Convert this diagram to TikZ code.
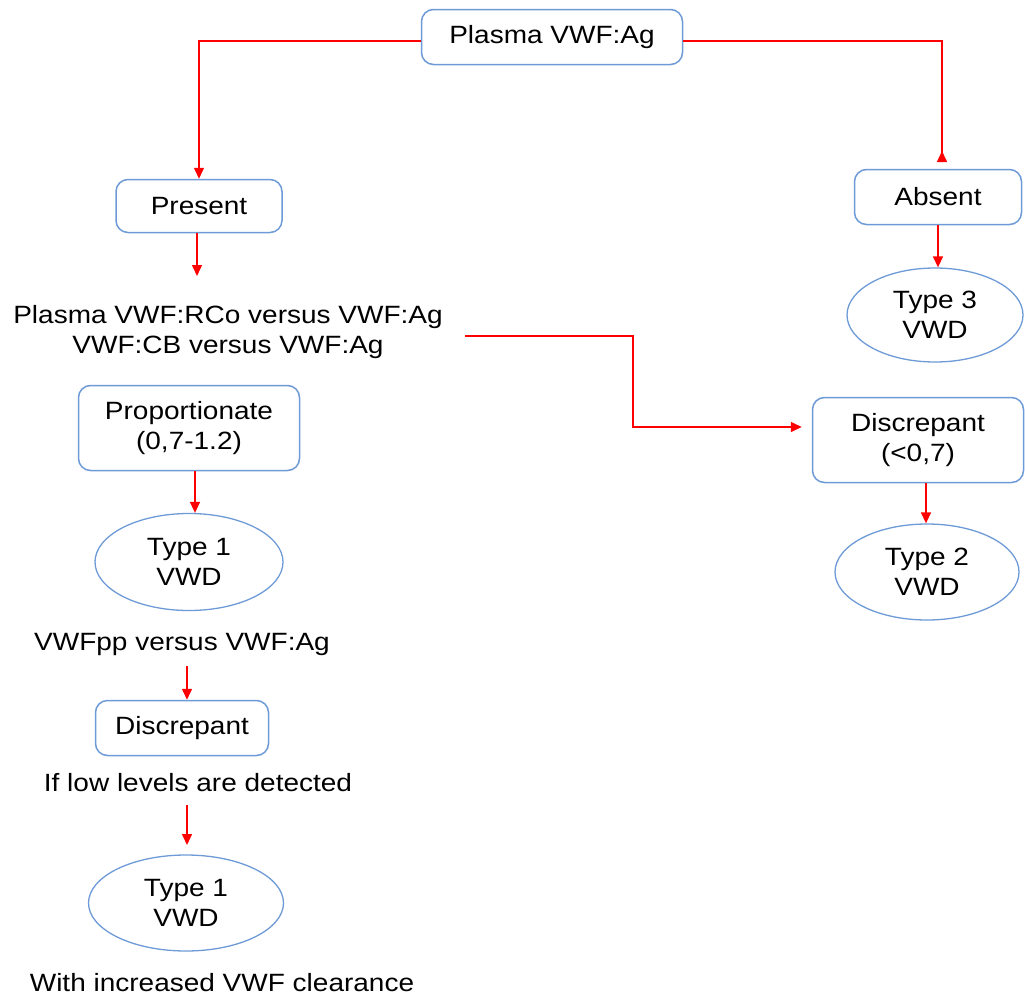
\documentclass[tikz,border=0pt]{standalone}
\usepackage{fontspec}
\setmainfont[FakeStretch=1.12]{Liberation Sans}
\usetikzlibrary{arrows.meta,shapes.geometric}
\definecolor{edgeblue}{RGB}{110,155,215}
\definecolor{flowred}{RGB}{255,0,0}
\newcommand{\flowfont}{\fontsize{25}{30}\selectfont}
\tikzset{
  box/.style={draw=edgeblue, line width=1.5pt, rounded corners=12pt, fill=white,
              align=center, inner sep=0pt, font=\flowfont},
  oval/.style={ellipse, draw=edgeblue, line width=1.3pt, fill=white,
               align=center, inner sep=0pt, font=\flowfont},
  note/.style={align=center, inner sep=0pt, font=\flowfont},
  link/.style={draw=flowred, line width=1.5pt, -{Triangle[length=11pt,width=10pt]}},
  backlink/.style={draw=flowred, line width=1.5pt, -{Triangle[reversed,length=11pt,width=10pt]}},
}
\begin{document}
\begin{tikzpicture}[x=1pt,y=-1pt]
\useasboundingbox (0,0) rectangle (1025,996);

% top level
\node[box, minimum width=261pt, minimum height=55pt] (ag) at (552,37) {Plasma VWF:Ag};

% left branch
\node[box, minimum width=166pt, minimum height=53pt] (present) at (199,206) {Present};
\node[note] (cmp) at (228,332) {Plasma VWF:RCo versus VWF:Ag\\VWF:CB versus VWF:Ag};
\node[box, minimum width=221pt, minimum height=85pt] (prop) at (189,428) {Proportionate\\(0,7-1.2)};
\node[oval, minimum width=188pt, minimum height=97pt] (typeA) at (189,562) {Type 1\\VWD};
\node[note] (pp) at (182,644) {VWFpp versus VWF:Ag};
\node[box, minimum width=173pt, minimum height=55pt] (discA) at (182,728) {Discrepant};
\node[note] (low) at (198,783) {If low levels are detected};
\node[oval, minimum width=195pt, minimum height=96pt] (typeB) at (186,903) {Type 1\\VWD};
\node[note] (clear) at (222,983) {With increased VWF clearance};

% right branch
\node[box, minimum width=167pt, minimum height=55pt] (absent) at (938,197) {Absent};
\node[oval, minimum width=176pt, minimum height=94pt] (typeC) at (935,315) {Type 3\\VWD};
\node[box, minimum width=211pt, minimum height=85pt] (discB) at (918,440) {Discrepant\\(<0,7)};
\node[oval, minimum width=184pt, minimum height=96pt] (typeD) at (927,572) {Type 2\\VWD};

% free ends of connectors that stop short of a text line
\coordinate (presentOut) at (197,276);
\coordinate (cmpOut) at (465,336);
\coordinate (absentIn) at (942,162);
\coordinate (ppIn) at (187,666);
\coordinate (lowIn) at (187,805);
\coordinate (lowOut) at (187,845);

% connectors
\draw[link] ([yshift=-4pt]ag.west) -| (present.north);
\draw[backlink] ([yshift=-4pt]ag.east) -| (absentIn);
\draw[link] (present.south -| presentOut) -- (presentOut);
\draw[link] (cmpOut) -- ++(168,0) |- ([xshift=-10pt,yshift=13pt]discB.west);
\draw[link] (prop.south -| 195,0) -- (typeA.north -| 195,0);
\draw[link] (ppIn) -- (discA.north -| ppIn);
\draw[link] (lowIn) -- (lowOut);
\draw[link] (absent.south) -- (typeC.north -| absent.south);
\draw[link] (discB.south -| 926,0) -- (typeD.north -| 926,0);
\end{tikzpicture}
\end{document}
